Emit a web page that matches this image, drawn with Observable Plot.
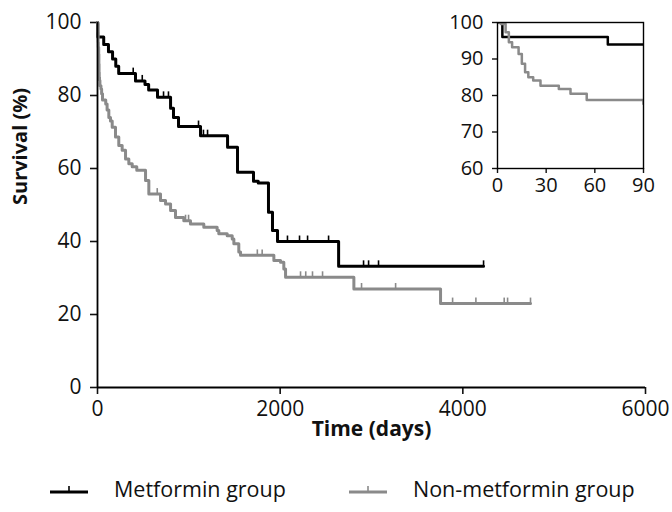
<!DOCTYPE html>
<html><head><meta charset="utf-8">
<script src="https://cdn.jsdelivr.net/npm/d3@7"></script>
<script src="https://cdn.jsdelivr.net/npm/@observablehq/plot@0.6"></script>
<style>
body{margin:0;background:#fff;font-family:"Open Sans",sans-serif;}
#wrap{position:relative;width:672px;height:512px;overflow:hidden;}
#main{position:absolute;left:0;top:0;}
#inset{position:absolute;left:430px;top:0;}
#legend{position:absolute;top:474px;left:0;width:672px;height:30px;font-size:21.5px;color:#111;}
.item{position:absolute;top:0;display:flex;align-items:center;white-space:nowrap;}
.item svg{margin-right:22px;}
</style></head><body>
<div id="wrap"><div id="main"></div><div id="inset"></div><div id="legend"></div></div>
<script>
// Metformin group: event times (days) and survival (%)
const metTime = [0, 3, 68, 120, 165, 200, 232, 416, 520, 560, 657, 800, 832, 887, 1128, 1424, 1533, 1708, 1760, 1872, 1916, 1971, 2640, 4227];
const metSurv = [100, 96, 94, 92, 90, 88, 86, 84, 83, 81.5, 79.5, 76.5, 74, 71.5, 69, 65.8, 59, 56.5, 56, 48, 43, 40, 33.2, 33.2];
const metCensor = [391, 490, 723, 777, 1106, 1160, 1205, 2080, 2212, 2300, 2530, 2913, 2968, 3077, 4227];

// Non-metformin group
const nonTime = [0, 2, 5, 7, 9, 13, 15, 17, 19, 22, 26.5, 37.8, 45, 55, 90, 105, 124, 142, 161, 197, 233, 270, 307, 343, 380, 430, 526, 562, 690, 745, 800, 854, 945, 1018, 1164, 1310, 1328, 1420, 1475, 1493, 1547, 1566, 1931, 2004, 2040, 2059, 2807, 3756, 4741];
const nonSurv = [100, 99.6, 97.3, 94.6, 93.2, 91.4, 88.7, 86.4, 85, 84.1, 82.7, 81.8, 80.5, 78.8, 77.7, 76, 74, 73, 71.3, 68.6, 66.3, 65, 62.6, 61.3, 60.5, 59.5, 56.7, 53, 51.2, 50.3, 48.5, 46.6, 45.7, 44.8, 43.9, 43, 42.1, 41.6, 40.7, 39.4, 37.1, 36.2, 34.8, 34.3, 32.5, 30.2, 27, 23, 23];
const nonCensor = [654, 964, 997, 1750, 1803, 2223, 2280, 2354, 2464, 2891, 3264, 3888, 4143, 4453, 4490, 4741];

const groups = ["Metformin group", "Non-metformin group"];
const colors = ["#000000", "#8a8a8a"];
const mainXTicks = [0, 2000, 4000, 6000];
const mainYTicks = [0, 20, 40, 60, 80, 100];
const insetXTicks = [0, 30, 60, 90];
const insetYTicks = [60, 70, 80, 90, 100];

function levelAt(times, surv, t) {
  let v = surv[0];
  for (let i = 0; i < times.length; i++) if (times[i] <= t) v = surv[i];
  return v;
}
const curves = [
  ...metTime.map((t, i) => ({group: groups[0], t, s: metSurv[i]})),
  ...nonTime.map((t, i) => ({group: groups[1], t, s: nonSurv[i]}))
];
const censors = [
  ...metCensor.map(t => ({group: groups[0], t, s: levelAt(metTime, metSurv, t)})),
  ...nonCensor.map(t => ({group: groups[1], t, s: levelAt(nonTime, nonSurv, t)}))
];
const font = '"Open Sans", sans-serif';

const main = Plot.plot({
  width: 672, height: 450,
  marginLeft: 97, marginRight: 27, marginTop: 22, marginBottom: 63,
  style: {fontFamily: font, fontSize: "21px", color: "#111", background: "transparent"},
  x: {domain: [0, 6000]},
  y: {domain: [0, 100]},
  color: {domain: groups, range: colors},
  marks: [
    Plot.axisX({ticks: mainXTicks, tickSize: 7, tickPadding: 7, label: null, tickFormat: d => String(d), strokeWidth: 1.6}),
    Plot.axisY({ticks: mainYTicks, tickSize: 7, tickPadding: 9, label: null, tickFormat: d => String(d), strokeWidth: 1.6}),
    Plot.line(curves, {x: "t", y: "s", z: "group", stroke: "group", curve: "step-after", strokeWidth: 3}),
    Plot.ruleX(censors, {x: "t", y1: "s", y2: d => d.s + 1.5, stroke: "group", strokeWidth: 1.6}),
    Plot.ruleX([0], {stroke: "#000", strokeWidth: 1.8}),
    Plot.ruleY([0], {stroke: "#000", strokeWidth: 1.8}),
    Plot.text(["Time (days)"], {frameAnchor: "bottom", dy: 48, fontWeight: "bold", fontSize: 21, fill: "#111"}),
    Plot.text(["Survival (%)"], {frameAnchor: "left", dx: -77, rotate: -90, fontWeight: "bold", fontSize: 20, fill: "#111"})
  ]
});
document.getElementById("main").appendChild(main);

const inset = Plot.plot({
  width: 242, height: 200,
  marginLeft: 67, marginRight: 29, marginTop: 22, marginBottom: 32,
  style: {fontFamily: font, fontSize: "20px", color: "#111", background: "transparent"},
  x: {domain: [0, 90]},
  y: {domain: [60, 100]},
  color: {domain: groups, range: colors},
  marks: [
    Plot.axisX({ticks: insetXTicks, tickSize: 5, tickPadding: 4, label: null, strokeWidth: 1.4}),
    Plot.axisY({ticks: insetYTicks, tickSize: 5, tickPadding: 9, label: null, strokeWidth: 1.4}),
    Plot.line(curves, {x: "t", y: "s", z: "group", stroke: "group", curve: "step-after", strokeWidth: 2.5, clip: true}),
    Plot.frame({stroke: "#000", strokeWidth: 1.4})
  ]
});
document.getElementById("inset").appendChild(inset);

// legend
const legend = document.getElementById("legend");
const legendX = [46, 345];
groups.forEach((g, i) => {
  const div = document.createElement("div");
  div.className = "item";
  div.style.left = legendX[i] + "px";
  div.innerHTML = `<svg width="46" height="20"><line x1="4" x2="42" y1="13" y2="13" stroke="${colors[i]}" stroke-width="3"/><line x1="23" x2="23" y1="13" y2="7" stroke="${colors[i]}" stroke-width="1.6"/></svg><span>${g}</span>`;
  legend.appendChild(div);
});
</script>
</body></html>
